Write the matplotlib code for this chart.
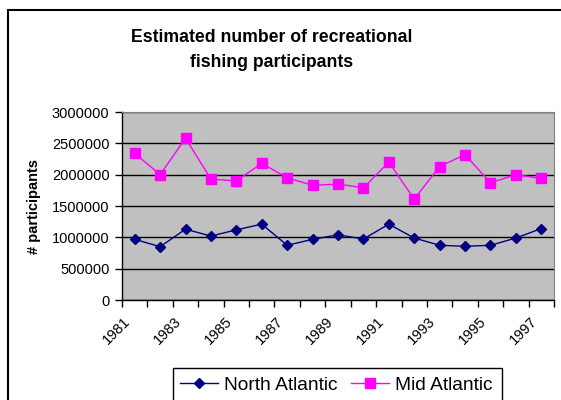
import matplotlib.pyplot as plt
from matplotlib.patches import Rectangle

plt.rcParams['font.family'] = ['Liberation Sans', 'DejaVu Sans']

# Recreational fishing participants per year
years = list(range(1981, 1998))
north_atlantic = [968000, 851000, 1130000, 1020000, 1120000, 1210000, 873000, 968000,
                  1040000, 973000, 1210000, 989000, 873000, 857000, 873000, 989000, 1140000]
mid_atlantic = [2340000, 2000000, 2580000, 1930000, 1900000, 2180000, 1950000, 1830000,
                1850000, 1790000, 2200000, 1610000, 2130000, 2320000, 1870000, 2000000, 1940000]
yticks = [0, 500000, 1000000, 1500000, 2000000, 2500000, 3000000]

W, H = 561, 400
fig = plt.figure(figsize=(W / 100, H / 100), dpi=100)

# outer chart border (extends past the right and bottom edges)
fig.patches.append(Rectangle((8 / W, -0.1), 1.2, 1 - 10 / H + 0.1, transform=fig.transFigure,
                             fill=False, edgecolor='black', linewidth=1.5))

ax = fig.add_axes([122 / W, 1 - 300 / H, (554 - 122) / W, (300 - 112) / H])
ax.set_facecolor('#C0C0C0')

idx = list(range(len(years)))
ax.plot(idx, north_atlantic, color='#000080', marker='D', markersize=5.5, linewidth=1,
        label='North Atlantic')
ax.plot(idx, mid_atlantic, color='#FF00FF', marker='s', markersize=7, linewidth=1,
        label='Mid Atlantic')

ax.set_xlim(-0.5, len(years) - 0.5)
ax.set_ylim(0, 3000000)
ax.set_yticks(yticks)
ax.set_yticklabels([str(v) for v in yticks], fontsize=10.5)
ax.grid(axis='y', color='black', linewidth=1)
ax.set_axisbelow(True)

# category boundaries get tick marks, every other category gets a label;
# rotated labels sit a little left of the category centre
ax.set_xticks([i - 0.5 for i in range(len(years) + 1)])
ax.set_xticklabels([])
ax.set_xticks([i - 0.45 for i in idx[::2]], minor=True)
ax.set_xticklabels([str(y) for y in years[::2]], minor=True, rotation=45, ha='right',
                   rotation_mode='anchor', fontsize=10.5)
ax.tick_params(axis='x', which='major', direction='out', length=5, width=1, color='black')
ax.tick_params(axis='x', which='minor', length=0, pad=10.5)
ax.tick_params(axis='y', direction='out', length=5, width=1, color='black', pad=4)

for side in ('top', 'right'):
    ax.spines[side].set_color('#808080')
for side in ('left', 'bottom'):
    ax.spines[side].set_color('black')
    ax.spines[side].set_linewidth(1)

ax.set_ylabel('# participants', fontsize=10.5, fontweight='bold', labelpad=8)

fig.text(272 / W, 1 - 50 / H, 'Estimated number of recreational\nfishing participants',
         ha='center', va='center', fontsize=12.7, fontweight='bold', linespacing=1.6)

# legend box, cut off at the bottom of the image
fig.patches.append(Rectangle((173 / W, -0.1), (502 - 173) / W, 0.1 + 1 - 368 / H,
                             transform=fig.transFigure, fill=False, edgecolor='black',
                             linewidth=1))
fig.legend(loc='center', bbox_to_anchor=(336 / W, 1 - 385 / H), ncol=2, frameon=False,
           fontsize=13.8, handlelength=2.0, handletextpad=0.3, columnspacing=0.7)

fig.savefig('out.png', dpi=100)
